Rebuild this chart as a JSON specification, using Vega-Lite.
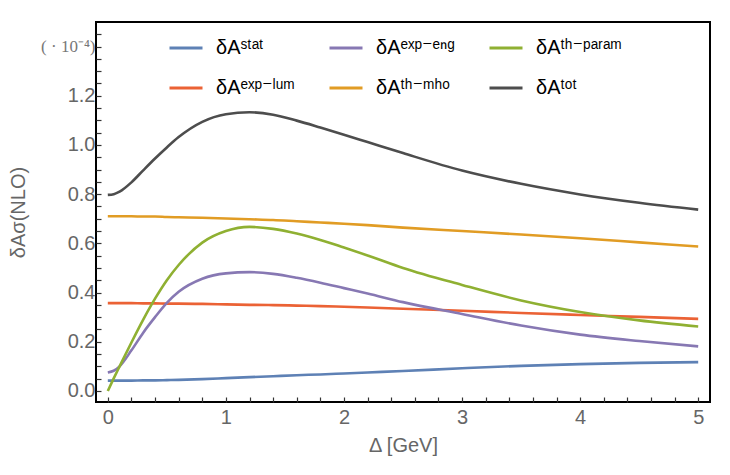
{
  "$schema": "https://vega.github.io/schema/vega-lite/v6.json",
  "width": 614,
  "height": 380,
  "autosize": "none",
  "padding": {"left": 96, "top": 22, "right": 20, "bottom": 73},
  "background": "white",
  "config": {
    "view": {"stroke": "#000", "strokeWidth": 2},
    "axis": {"domain": false, "grid": false, "labelOverlap": false, "labelFlush": false, "labelColor": "#666", "labelFont": "Liberation Sans", "labelFontSize": 20, "titleColor": "#666", "titleFont": "Liberation Sans", "titleFontSize": 20, "titleFontWeight": "normal"}
  },
  "data": {
    "values": [
      {"d": 0.0, "stat": 0.042, "explum": 0.357, "expeng": 0.075, "thmho": 0.710, "thparam": 0.000, "tot": 0.797},
      {"d": 0.05, "stat": 0.042, "explum": 0.357, "expeng": 0.082, "thmho": 0.710, "thparam": 0.051, "tot": 0.800},
      {"d": 0.1, "stat": 0.042, "explum": 0.357, "expeng": 0.100, "thmho": 0.710, "thparam": 0.100, "tot": 0.810},
      {"d": 0.2, "stat": 0.042, "explum": 0.357, "expeng": 0.165, "thmho": 0.710, "thparam": 0.197, "tot": 0.848},
      {"d": 0.3, "stat": 0.043, "explum": 0.356, "expeng": 0.237, "thmho": 0.709, "thparam": 0.290, "tot": 0.897},
      {"d": 0.4, "stat": 0.043, "explum": 0.356, "expeng": 0.300, "thmho": 0.709, "thparam": 0.375, "tot": 0.945},
      {"d": 0.5, "stat": 0.044, "explum": 0.355, "expeng": 0.358, "thmho": 0.707, "thparam": 0.450, "tot": 0.990},
      {"d": 0.6, "stat": 0.045, "explum": 0.355, "expeng": 0.403, "thmho": 0.706, "thparam": 0.512, "tot": 1.032},
      {"d": 0.8, "stat": 0.048, "explum": 0.354, "expeng": 0.456, "thmho": 0.704, "thparam": 0.603, "tot": 1.094},
      {"d": 1.0, "stat": 0.052, "explum": 0.352, "expeng": 0.478, "thmho": 0.701, "thparam": 0.650, "tot": 1.125},
      {"d": 1.2, "stat": 0.056, "explum": 0.350, "expeng": 0.483, "thmho": 0.698, "thparam": 0.667, "tot": 1.133},
      {"d": 1.4, "stat": 0.060, "explum": 0.349, "expeng": 0.476, "thmho": 0.695, "thparam": 0.659, "tot": 1.123},
      {"d": 1.6, "stat": 0.064, "explum": 0.347, "expeng": 0.460, "thmho": 0.690, "thparam": 0.640, "tot": 1.099},
      {"d": 1.8, "stat": 0.067, "explum": 0.345, "expeng": 0.440, "thmho": 0.685, "thparam": 0.614, "tot": 1.071},
      {"d": 2.0, "stat": 0.071, "explum": 0.342, "expeng": 0.418, "thmho": 0.680, "thparam": 0.583, "tot": 1.042},
      {"d": 2.2, "stat": 0.075, "explum": 0.339, "expeng": 0.396, "thmho": 0.674, "thparam": 0.551, "tot": 1.012},
      {"d": 2.5, "stat": 0.081, "explum": 0.334, "expeng": 0.361, "thmho": 0.664, "thparam": 0.500, "tot": 0.967},
      {"d": 3.0, "stat": 0.092, "explum": 0.326, "expeng": 0.313, "thmho": 0.650, "thparam": 0.431, "tot": 0.896},
      {"d": 3.5, "stat": 0.102, "explum": 0.317, "expeng": 0.266, "thmho": 0.636, "thparam": 0.368, "tot": 0.842},
      {"d": 4.0, "stat": 0.109, "explum": 0.309, "expeng": 0.229, "thmho": 0.621, "thparam": 0.321, "tot": 0.799},
      {"d": 4.5, "stat": 0.114, "explum": 0.301, "expeng": 0.203, "thmho": 0.604, "thparam": 0.287, "tot": 0.765},
      {"d": 5.0, "stat": 0.117, "explum": 0.293, "expeng": 0.181, "thmho": 0.587, "thparam": 0.262, "tot": 0.737}
    ]
  },
  "transform": [
    {"fold": ["stat", "explum", "expeng", "thmho", "thparam", "tot"], "as": ["s", "v"]}
  ],
  "mark": {"type": "line", "strokeWidth": 2.6, "interpolate": "monotone"},
  "encoding": {
    "x": {
      "field": "d", "type": "quantitative",
      "scale": {"domain": [-0.1, 5.1], "nice": false, "zero": false},
      "axis": {
        "orient": "bottom", "title": "Δ [GeV]", "titlePadding": 8, "ticks": true,
        "values": [0, 0.2, 0.4, 0.6, 0.8, 1, 1.2, 1.4, 1.6, 1.8, 2, 2.2, 2.4, 2.6, 2.8, 3, 3.2, 3.4, 3.6, 3.8, 4, 4.2, 4.4, 4.6, 4.8, 5],
        "labelExpr": "abs(datum.value - round(datum.value)) < 1e-6 ? format(datum.value, 'd') : ''",
        "tickSize": -5, "tickColor": "#333", "tickWidth": 1.2,
        "labelPadding": 10
      }
    },
    "y": {
      "field": "v", "type": "quantitative",
      "scale": {"domain": [-0.045, 1.5], "nice": false, "zero": false},
      "axis": {
        "orient": "left", "title": "δAσ(NLO)", "titlePadding": 12, "ticks": true,
        "values": [0, 0.05, 0.1, 0.15, 0.2, 0.25, 0.3, 0.35, 0.4, 0.45, 0.5, 0.55, 0.6, 0.65, 0.7, 0.75, 0.8, 0.85, 0.9, 0.95, 1, 1.05, 1.1, 1.15, 1.2, 1.25, 1.3, 1.35, 1.4, 1.45],
        "labelExpr": "abs(datum.value - 1.4) < 1e-6 ? '( · 10⁻⁴)' : (abs(datum.value * 5 - round(datum.value * 5)) < 1e-6 ? format(datum.value, '.1f') : '')",
        "labelFont": {"condition": {"test": "abs(datum.value - 1.4) < 1e-6", "value": "Liberation Serif"}, "value": "Liberation Sans"},
        "labelFontSize": {"condition": {"test": "abs(datum.value - 1.4) < 1e-6", "value": 17}, "value": 20},
        "labelColor": {"condition": {"test": "abs(datum.value - 1.4) < 1e-6", "value": "#777"}, "value": "#666"},
        "tickSize": -5, "tickColor": "#333", "tickWidth": 1.2,
        "labelPadding": 6
      }
    },
    "color": {
      "field": "s", "type": "nominal",
      "scale": {
        "domain": ["stat", "expeng", "thparam", "explum", "thmho", "tot"],
        "range": ["#5e81b5", "#8778b3", "#8fb032", "#eb6235", "#e19c24", "#4d4d4d"]
      },
      "legend": {
        "orient": "none", "legendX": 72, "legendY": 8, "columns": 3, "direction": "horizontal",
        "title": null, "padding": 0,
        "symbolType": "stroke", "symbolSize": 1089, "symbolStrokeWidth": 3,
        "labelFont": "Liberation Sans, DejaVu Sans, sans-serif", "labelFontSize": 20, "labelColor": "#000",
        "labelOffset": 12, "columnPadding": 28, "rowPadding": 12, "labelLimit": 200,
        "labelExpr": "datum.label == 'stat' ? 'δAˢᵗᵃᵗ' : datum.label == 'expeng' ? 'δAᵉˣᵖ⁻ᵉⁿᵍ' : datum.label == 'thparam' ? 'δAᵗʰ⁻ᵖᵃʳᵃᵐ' : datum.label == 'explum' ? 'δAᵉˣᵖ⁻ˡᵘᵐ' : datum.label == 'thmho' ? 'δAᵗʰ⁻ᵐʰᵒ' : 'δAᵗᵒᵗ'"
      }
    }
  }
}
